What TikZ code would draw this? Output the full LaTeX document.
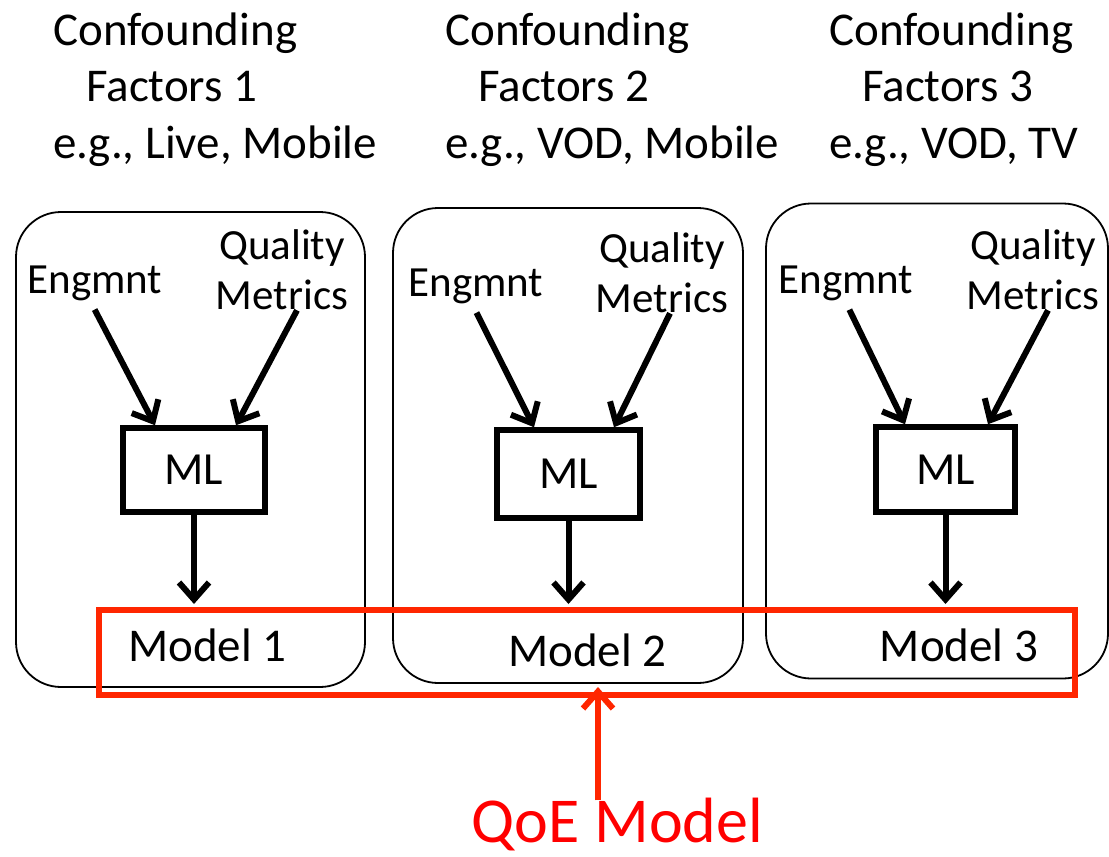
\documentclass[tikz,border=0pt]{standalone}
\usepackage{fontspec}
\setmainfont{Carlito}
\usetikzlibrary{arrows.meta}
\definecolor{qred}{RGB}{255,38,0}
\tikzset{
  ctx/.style={draw, rounded corners=45pt, line width=1.8pt, minimum height=475pt},
  title/.style={inner sep=0pt, font=\fontsize{47}{57}\selectfont},
  lbl/.style={inner sep=0pt, align=center, font=\fontsize{43}{50}\selectfont},
  mlbox/.style={draw, line width=5.5pt, inner sep=0pt, font=\fontsize{46}{55}\selectfont},
  arr/.style={line width=6pt, -{Straight Barb[length=17pt,width=30pt]}},
  qarr/.style={arr, draw=qred},
}
\begin{document}
\begin{tikzpicture}[x=1pt, y=-1pt]
  \useasboundingbox (0,0) rectangle (1109,857);
  % context boxes
  \node[ctx, minimum width=349pt] (ctx1) at (190.5,449.5) {};
  \node[ctx, minimum width=350pt] (ctx2) at (568,445.5) {};
  \node[ctx, minimum width=342pt] (ctx3) at (937,441) {};
  % confounding factors
  \node[title, anchor=base west] (conf1) at (53,45) {Confounding};
  \node[title, anchor=base west] (fac1) at (86,101) {Factors 1};
  \node[title, anchor=base west] (eg1) at (53,158) {e.g., Live, Mobile};
  \node[title, anchor=base west] (conf2) at (445,45) {Confounding};
  \node[title, anchor=base west] (fac2) at (478,101) {Factors 2};
  \node[title, anchor=base west] (eg2) at (445,158) {e.g., VOD, Mobile};
  \node[title, anchor=base west] (conf3) at (829,45) {Confounding};
  \node[title, anchor=base west] (fac3) at (862,101) {Factors 3};
  \node[title, anchor=base west] (eg3) at (829,158) {e.g., VOD, TV};
  % inputs
  \node[lbl] (eng1) at (95,283) {Engmnt};
  \node[lbl] (qm1) at (282,270) {Quality\\Metrics};
  \node[lbl] (eng2) at (476,286) {Engmnt};
  \node[lbl] (qm2) at (662,273) {Quality\\Metrics};
  \node[lbl] (eng3) at (846,283) {Engmnt};
  \node[lbl] (qm3) at (1033,270) {Quality\\Metrics};
  % learners
  \node[mlbox, minimum width=142pt, minimum height=84pt] (ml1) at (194,470) {ML};
  \node[mlbox, minimum width=143pt, minimum height=88pt] (ml2) at (568.5,474) {ML};
  \node[mlbox, minimum width=139pt, minimum height=85pt] (ml3) at (945.5,469.5) {ML};
  % models
  \node[title] (mod1) at (207.5,645) {Model 1};
  \node[title] (mod2) at (587.5,650) {Model 2};
  \node[title] (mod3) at (959,645) {Model 3};
  \node[draw=qred, line width=6pt, minimum width=976pt, minimum height=85pt] (models) at (587,652.5) {};
  \node[inner sep=0pt, text=red, font=\fontsize{64}{77}\selectfont] (qoe) at (617.5,825) {QoE Model};
  % connectors
  \draw[arr, shorten <=10pt] ([xshift=-5pt]eng1.south) -- ([xshift=-39pt]ml1.north);
  \draw[arr] ([xshift=15pt]qm1.south) -- ([xshift=42pt]ml1.north);
  \draw[arr, shorten >=3pt] (ml1.south) -- (ml1.south |- models.north);
  \draw[arr, shorten <=10pt] ([xshift=-4pt]eng2.south) -- ([xshift=-34.5pt]ml2.north);
  \draw[arr] ([xshift=8pt]qm2.south) -- ([xshift=45.5pt]ml2.north);
  \draw[arr, shorten >=3pt] (ml2.south) -- (ml2.south |- models.north);
  \draw[arr, shorten <=10pt] ([xshift=-1pt]eng3.south) -- ([xshift=-40.5pt]ml3.north);
  \draw[arr] ([xshift=15pt]qm3.south) -- ([xshift=42.5pt]ml3.north);
  \draw[arr, shorten >=3pt] (ml3.south) -- (ml3.south |- models.north);
  \draw[qarr, shorten <=-2pt, shorten >=-11pt] ([xshift=-19.5pt]qoe.north) -- ([xshift=11pt]models.south);
\end{tikzpicture}
\end{document}
